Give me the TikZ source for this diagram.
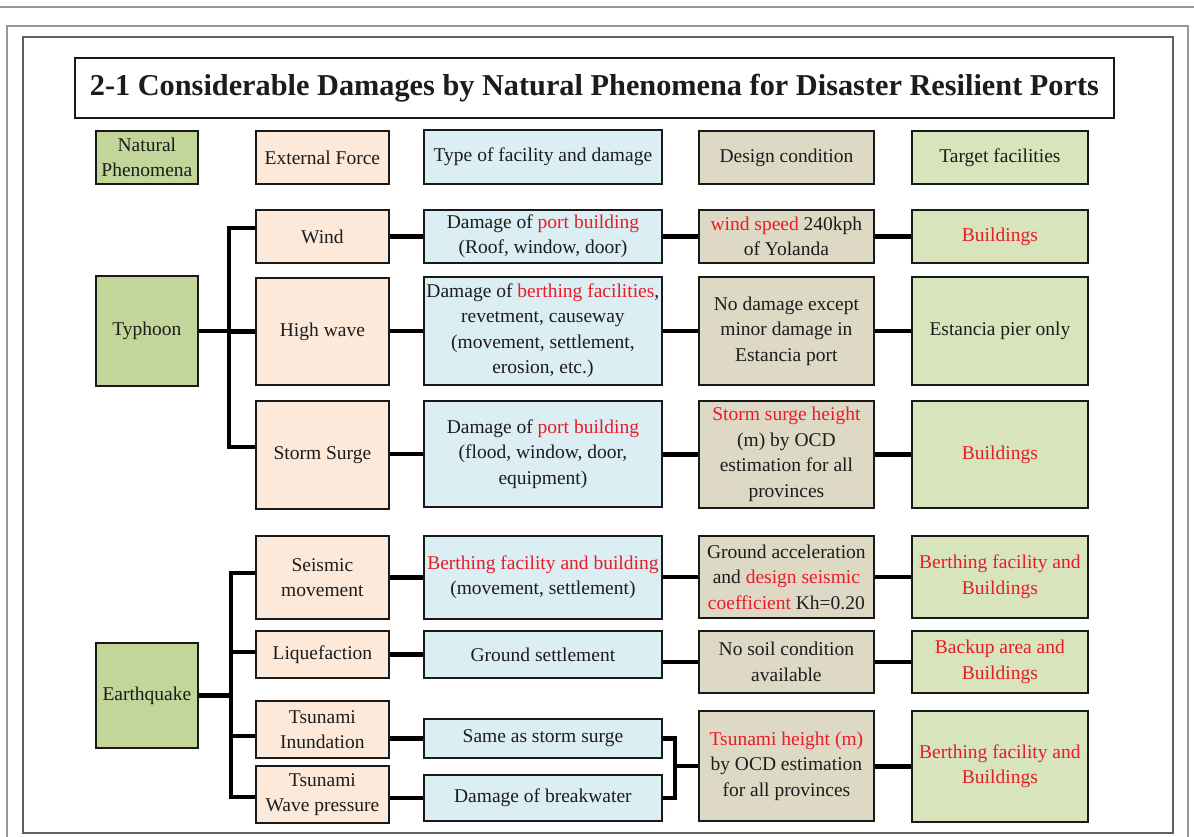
\documentclass[tikz,border=0pt]{standalone}
\usepackage{fontspec}
\setmainfont{Liberation Serif}
\definecolor{phenfill}{RGB}{194,214,154}
\definecolor{targfill}{RGB}{216,228,188}
\definecolor{extfill}{RGB}{253,233,217}
\definecolor{typefill}{RGB}{219,238,244}
\definecolor{desfill}{RGB}{221,217,196}
\definecolor{hltext}{RGB}{232,28,40}
\definecolor{bodytext}{RGB}{28,28,28}
\definecolor{framegray}{RGB}{150,150,150}
\definecolor{framedark}{RGB}{95,95,95}
\newcommand\redtxt[1]{\textcolor{hltext}{#1}}
\begin{document}
\begin{tikzpicture}[x=1pt,y=-1pt,
  box/.style={draw=black!90, line width=1.8pt, anchor=north west, align=center,
    inner xsep=2pt, inner ysep=1pt, text=bodytext,
    font=\fontsize{19.5}{25.5}\selectfont},
  phen/.style={box, fill=phenfill},
  targ/.style={box, fill=targfill},
  extf/.style={box, fill=extfill},
  typef/.style={box, fill=typefill},
  desf/.style={box, fill=desfill},
  conn/.style={line width=4.5pt, black}]
\useasboundingbox (0,0) rectangle (1194,837);
\fill[white] (0,0) rectangle (1194,837);

% page frames
\draw[framegray, line width=1.5pt] (0,7) -- (1194,7);
\draw[framegray, line width=1.2pt] (7,26) rectangle (1188,860);
\draw[framedark, line width=1.2pt] (23,37) rectangle (1173,833);

% title
\node[draw=black!90, line width=1.8pt, anchor=north west, minimum width=1039, minimum height=60,
  font=\fontsize{30.3}{36}\selectfont\bfseries, text=bodytext] (title) at (74,57)
  {2-1 Considerable Damages by Natural Phenomena for Disaster Resilient Ports};

% column headers
\node[phen, minimum width=102, minimum height=53] (hPhen) at (95,130) {Natural\\Phenomena};
\node[extf, minimum width=133, minimum height=53] (hExt) at (255,130) {External Force};
\node[typef, minimum width=238, minimum height=54] (hType) at (423,129) {Type of facility and damage};
\node[desf, minimum width=175, minimum height=53] (hDes) at (698,130) {Design condition};
\node[targ, minimum width=176, minimum height=53] (hTarg) at (911,130) {Target facilities};

% typhoon branch
\node[phen, minimum width=102, minimum height=110] (typhoon) at (95,275) {Typhoon};

\node[extf, minimum width=133, minimum height=53] (wind) at (255,209) {Wind};
\node[typef, minimum width=238, minimum height=53] (twind) at (423,209)
  {Damage of \redtxt{port building}\\(Roof, window, door)};
\node[desf, minimum width=175, minimum height=53] (dwind) at (698,209)
  {\redtxt{wind speed} 240kph\\of Yolanda};
\node[targ, minimum width=176, minimum height=53] (gwind) at (911,209) {\redtxt{Buildings}};

\node[extf, minimum width=133, minimum height=107] (high) at (255,277) {High wave};
\node[typef, minimum width=238, minimum height=108] (thigh) at (423,276)
  {Damage of \redtxt{berthing facilities},\\revetment, causeway\\(movement, settlement,\\erosion, etc.)};
\node[desf, minimum width=175, minimum height=108] (dhigh) at (698,276)
  {No damage except\\minor damage in\\Estancia port};
\node[targ, minimum width=176, minimum height=108] (ghigh) at (911,276) {Estancia pier only};

\node[extf, minimum width=133, minimum height=108] (storm) at (255,400) {Storm Surge};
\node[typef, minimum width=238, minimum height=106] (tstorm) at (423,400)
  {Damage of \redtxt{port building}\\(flood, window, door,\\equipment)};
\node[desf, minimum width=175, minimum height=107] (dstorm) at (698,400)
  {\redtxt{Storm surge height}\\(m) by OCD\\estimation for all\\provinces};
\node[targ, minimum width=176, minimum height=107] (gstorm) at (911,400) {\redtxt{Buildings}};

% earthquake branch
\node[phen, minimum width=102, minimum height=105] (quake) at (95,642) {Earthquake};

\node[extf, minimum width=133, minimum height=83] (seis) at (255,535) {Seismic\\movement};
\node[typef, minimum width=238, minimum height=83] (tseis) at (423,535)
  {\redtxt{Berthing facility and building}\\(movement, settlement)};
\node[desf, minimum width=175, minimum height=82] (dseis) at (698,535)
  {Ground acceleration\\and \redtxt{design seismic}\\\redtxt{coefficient} Kh=0.20};
\node[targ, minimum width=176, minimum height=82] (gseis) at (911,535)
  {\redtxt{Berthing facility and}\\\redtxt{Buildings}};

\node[extf, minimum width=133, minimum height=47] (liq) at (255,630) {Liquefaction};
\node[typef, minimum width=238, minimum height=47] (tliq) at (423,630) {Ground settlement};
\node[desf, minimum width=175, minimum height=62] (dliq) at (698,630)
  {No soil condition\\available};
\node[targ, minimum width=176, minimum height=62] (gliq) at (911,630)
  {\redtxt{Backup area and}\\\redtxt{Buildings}};

\node[extf, minimum width=133, minimum height=57] (inund) at (255,700) {Tsunami\\Inundation};
\node[typef, minimum width=238, minimum height=39] (tinund) at (423,718) {Same as storm surge};
\node[extf, minimum width=133, minimum height=57] (wavep) at (255,765) {Tsunami\\Wave pressure};
\node[typef, minimum width=238, minimum height=46] (tbrk) at (423,774) {Damage of breakwater};
\node[desf, minimum width=175, minimum height=110] (dtsu) at (698,710)
  {\redtxt{Tsunami height (m)}\\by OCD estimation\\for all provinces};
\node[targ, minimum width=176, minimum height=111] (gtsu) at (911,710)
  {\redtxt{Berthing facility and}\\\redtxt{Buildings}};

% typhoon tree
\coordinate (tyTop) at (229,228);
\coordinate (tyBot) at (229,447);
\draw[conn] (wind.west |- tyTop) -- (tyTop) -- (tyBot) -- (storm.west |- tyBot);
\draw[conn] (typhoon.east) -- (typhoon.east -| tyTop);
\draw[conn] (high.west) -- (high.west -| tyTop);

% earthquake tree
\coordinate (eqTop) at (231,573);
\coordinate (eqBot) at (231,797);
\draw[conn] (seis.west |- eqTop) -- (eqTop) -- (eqBot) -- (wavep.west |- eqBot);
\draw[conn] (quake.east) -- (quake.east -| eqTop);
\draw[conn] (liq.west |- 0,652) -- (eqTop |- 0,652);
\draw[conn] (inund.west |- 0,736) -- (eqTop |- 0,736);

% row links
\foreach \a/\b in {wind/twind, twind/dwind, dwind/gwind,
                   high/thigh, thigh/dhigh, dhigh/ghigh,
                   storm/tstorm, tstorm/dstorm, dstorm/gstorm,
                   seis/tseis, tseis/dseis, dseis/gseis,
                   liq/tliq, tliq/dliq, dliq/gliq,
                   dtsu/gtsu}
  \draw[conn] (\b.west) -- (\b.west -| \a.east);
\draw[conn] (inund.east |- tinund.west) -- (tinund.west);
\draw[conn] (wavep.east |- tbrk.west) -- (tbrk.west);

% tsunami bracket
\coordinate (brk) at (675,765);
\draw[conn] (tinund.east) -- (tinund.east -| brk) -- (brk |- tbrk.east) -- (tbrk.east);
\draw[conn] (dtsu.west) -- (dtsu.west -| brk);
\end{tikzpicture}
\end{document}
